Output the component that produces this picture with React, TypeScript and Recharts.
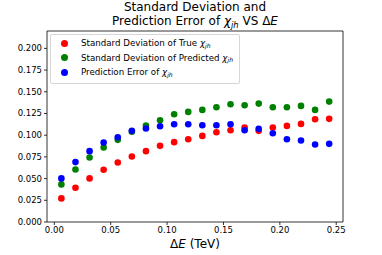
import { ReferenceArea, Scatter, ScatterChart, XAxis, YAxis } from "recharts";

const deltaE = [
  0.00625, 0.01875, 0.03125, 0.04375, 0.05625, 0.06875, 0.08125, 0.09375, 0.10625, 0.11875,
  0.13125, 0.14375, 0.15625, 0.16875, 0.18125, 0.19375, 0.20625, 0.21875, 0.23125, 0.24375,
];
const trueStd = [
  0.0272, 0.0395, 0.0502, 0.0601, 0.0686, 0.0755, 0.0816, 0.0877, 0.092, 0.0954,
  0.0992, 0.1034, 0.1057, 0.1088, 0.105, 0.1088, 0.1107, 0.113, 0.1184, 0.1188,
];
const predStd = [
  0.0433, 0.0605, 0.0743, 0.0858, 0.0946, 0.104, 0.1111, 0.1172, 0.1241, 0.1268,
  0.1291, 0.1322, 0.1356, 0.1345, 0.1364, 0.1322, 0.1322, 0.1337, 0.1291, 0.1387,
];
const predErr = [
  0.0502, 0.069, 0.0816, 0.0916, 0.0977, 0.105, 0.1077, 0.1103, 0.1126, 0.1126,
  0.1115, 0.1115, 0.1126, 0.1057, 0.1073, 0.1023, 0.0954, 0.0939, 0.0893, 0.09,
];
const xTicks = [0, 0.05, 0.1, 0.15, 0.2, 0.25];
const yTicks = [0, 0.025, 0.05, 0.075, 0.1, 0.125, 0.15, 0.175, 0.2];

const FONT = "'DejaVu Sans', sans-serif";

const series = [
  { name: "Standard Deviation of True ", color: "#ff0000", values: trueStd },
  { name: "Standard Deviation of Predicted ", color: "#008000", values: predStd },
  { name: "Prediction Error of ", color: "#0000ff", values: predErr },
];

const dot = (color: string) => (p: any) => (
  <circle cx={p.cx} cy={p.cy} r={3.3} fill={color} />
);

// subscript kept out of the line box so rows stay evenly spaced
const Chi = () => (
  <>
    <i>χ</i>
    <span style={{ fontSize: "0.7em", position: "relative", top: "0.3em", lineHeight: 0 }}>
      <i>jh</i>
    </span>
  </>
);

function LegendBox() {
  return (
    <div
      style={{
        position: "absolute",
        left: 50,
        top: 34,
        width: 188,
        border: "1px solid #d6d6d6",
        borderRadius: 2,
        background: "rgba(255,255,255,0.8)",
        padding: "1px 0 3px 0",
        fontFamily: FONT,
        fontSize: 8.7,
        color: "#000",
      }}
    >
      {series.map((s) => (
        <div
          key={s.name}
          style={{ display: "flex", alignItems: "center", whiteSpace: "nowrap", height: 14.5, lineHeight: "14.5px" }}
        >
          <span
            style={{
              display: "inline-block",
              width: 7,
              height: 7,
              borderRadius: "50%",
              background: s.color,
              marginLeft: 10,
              marginRight: 13,
            }}
          />
          <span>
            {s.name}
            <Chi />
          </span>
        </div>
      ))}
    </div>
  );
}

function XLabel(props: any) {
  const vb = props.viewBox;
  return (
    <text
      x={vb.x + vb.width / 2}
      y={vb.y + 26}
      textAnchor="middle"
      fontFamily={FONT}
      fontSize={12}
      fill="#000"
    >
      Δ<tspan fontStyle="italic">E</tspan> (TeV)
    </text>
  );
}

export default function App() {
  return (
    <div style={{ position: "absolute", left: 0, top: 0, width: 382, height: 255, background: "#fff" }}>
      <ScatterChart
        width={382}
        height={255}
        margin={{ top: 31, right: 39, bottom: 0, left: 0 }}
      >
        <XAxis
          type="number"
          dataKey="x"
          domain={[-0.0065, 0.256]}
          ticks={xTicks}
          tickFormatter={(v: number) => v.toFixed(2)}
          height={33}
          axisLine={false}
          tickLine={{ stroke: "#000", strokeWidth: 0.8 }}
          tickSize={3}
          tick={{ fontSize: 8.5, fill: "#000", fontFamily: FONT }}
          allowDataOverflow
          label={<XLabel />}
        />
        <YAxis
          type="number"
          dataKey="y"
          domain={[0, 0.22]}
          ticks={yTicks}
          tickFormatter={(v: number) => v.toFixed(3)}
          width={47}
          axisLine={false}
          tickLine={{ stroke: "#000", strokeWidth: 0.8 }}
          tickSize={3}
          tick={{ fontSize: 8.5, fill: "#000", fontFamily: FONT }}
          allowDataOverflow
        />
        {series.map((s) => (
          <Scatter
            key={s.name}
            name={s.name}
            data={deltaE.map((x, i) => ({ x, y: s.values[i] }))}
            fill={s.color}
            shape={dot(s.color)}
            isAnimationActive={false}
          />
        ))}
        <ReferenceArea
          x1={-0.0065}
          x2={0.256}
          y1={0}
          y2={0.22}
          fill="none"
          stroke="#000"
          strokeWidth={0.8}
          ifOverflow="extendDomain"
        />
      </ScatterChart>
      <div
        style={{
          position: "absolute",
          left: 0,
          width: 390,
          top: 0,
          textAlign: "center",
          fontFamily: FONT,
          fontSize: 12,
          lineHeight: "14px",
          color: "#000",
        }}
      >
        Standard Deviation and
        <br />
        Prediction Error of <Chi /> VS Δ<i>E</i>
      </div>
      <LegendBox />
    </div>
  );
}
